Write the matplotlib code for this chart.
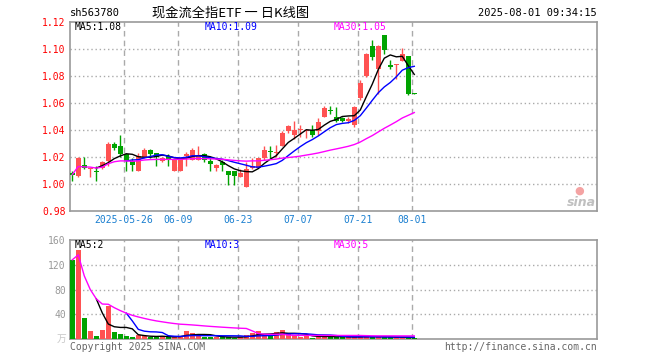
import matplotlib
matplotlib.use("Agg")
import matplotlib.pyplot as plt
import numpy as np
import pandas as pd

code = "sh563780"
title = "现金流全指ETF 一 日K线图"
stamp = "2025-08-01 09:34:15"

# 日K数据 2025-05-13 .. 2025-08-01
opens = [1.008, 1.006, 1.014, 1.011, 1.010, 1.012, 1.017, 1.030, 1.028, 1.022,
         1.017, 1.010, 1.020, 1.025, 1.023, 1.017, 1.021, 1.010, 1.010, 1.021,
         1.018, 1.018, 1.022, 1.017, 1.012, 1.016, 1.010, 1.010, 1.005, 0.998,
         1.012, 1.012, 1.019, 1.0245, 1.023, 1.028, 1.039, 1.036, 1.040, 1.039,
         1.040, 1.039, 1.050, 1.055, 1.050, 1.049, 1.047, 1.044, 1.064, 1.080,
         1.102, 1.085, 1.110, 1.088, 1.088, 1.091, 1.095, 1.0672]
highs = [1.010, 1.020, 1.020, 1.012, 1.013, 1.017, 1.031, 1.031, 1.036, 1.023,
         1.019, 1.023, 1.027, 1.026, 1.023, 1.020, 1.022, 1.018, 1.019, 1.024,
         1.027, 1.028, 1.023, 1.020, 1.015, 1.018, 1.010, 1.010, 1.011, 1.0165,
         1.0195, 1.019, 1.028, 1.028, 1.029, 1.039, 1.044, 1.047, 1.044, 1.041,
         1.044, 1.049, 1.058, 1.058, 1.057, 1.050, 1.050, 1.058, 1.077, 1.097,
         1.107, 1.103, 1.110, 1.092, 1.089, 1.101, 1.095, 1.0672]
lows = [1.002, 1.005, 1.011, 1.005, 1.002, 1.011, 1.013, 1.025, 1.020, 1.010,
        1.010, 1.010, 1.019, 1.019, 1.013, 1.016, 1.013, 1.010, 1.010, 1.013,
        1.018, 1.018, 1.016, 1.010, 1.010, 1.010, 0.999, 0.999, 1.005, 0.9975,
        1.011, 1.012, 1.018, 1.019, 1.020, 1.028, 1.038, 1.033, 1.035, 1.034,
        1.035, 1.036, 1.050, 1.052, 1.046, 1.046, 1.045, 1.042, 1.062, 1.079,
        1.092, 1.067, 1.096, 1.085, 1.078, 1.091, 1.066, 1.0668]
closes = [1.007, 1.019, 1.012, 1.012, 1.009, 1.016, 1.030, 1.027, 1.022, 1.017,
          1.014, 1.021, 1.025, 1.022, 1.020, 1.019, 1.018, 1.018, 1.019, 1.022,
          1.025, 1.021, 1.018, 1.015, 1.014, 1.014, 1.007, 1.006, 1.008, 1.011,
          1.013, 1.019, 1.025, 1.024, 1.024, 1.038, 1.043, 1.040, 1.040, 1.040,
          1.036, 1.046, 1.056, 1.054, 1.047, 1.047, 1.048, 1.057, 1.075, 1.096,
          1.094, 1.102, 1.099, 1.087, 1.089, 1.096, 1.067, 1.0668]
# 成交量 (万)
vols = [128, 144, 34, 13.5, 5, 14.5, 54, 12, 8, 5,
        3.2, 6.5, 5, 3, 3, 5, 3, 3, 5, 13,
        9.5, 6, 3, 3.5, 3.5, 3, 3, 2, 3.7, 6,
        10, 13, 6, 5.4, 11, 14.5, 9, 6, 3.7, 5,
        2, 4.5, 4.5, 3.7, 3, 3, 3, 3, 4.5, 4.5,
        3, 3, 3, 3, 2.5, 2.5, 2.5, 1.5]

tick_idx = [9, 18, 28, 38, 48, 57]
tick_lab = ["2025-05-26", "06-09", "06-23", "07-07", "07-21", "08-01"]

RED = "#ff5252"
GREEN = "#00a300"
GRID = "#aaaaaa"
MONO = "DejaVu Sans Mono"
W, H = 660, 360

def fx(x):
    return x / W

def fy(y):
    return 1 - y / H

o = np.array(opens); h = np.array(highs); l = np.array(lows); c = np.array(closes)
v = np.array(vols)
x = np.arange(len(c))
up = c >= o
cols = np.where(up, RED, GREEN)

cs = pd.Series(c)
ma5 = cs.rolling(5).mean()
ma10 = cs.rolling(10).mean()
ma30 = cs.rolling(30, min_periods=1).mean()
vs = pd.Series(v)
vma5 = vs.rolling(5).mean()
vma10 = vs.rolling(10).mean()
vma30 = vs.rolling(30, min_periods=1).mean()

fig = plt.figure(figsize=(6.6, 3.6), dpi=100)
ax = fig.add_axes([fx(70), fy(211), (597 - 70) / W, (211 - 22) / H])
axv = fig.add_axes([fx(70), fy(339), (597 - 70) / W, (339 - 240) / H])

xlim = (-0.38, 87.45)
grid_x = [i - 0.35 for i in tick_idx]

# --- 价格 ---
ax.vlines(x, l, h, color=cols, lw=1, zorder=3)
body = np.maximum(np.abs(c - o), 0.0008)
ax.bar(x, body, bottom=np.minimum(o, c), width=0.75, color=cols, lw=0, zorder=3)
ax.plot(x, ma5, color="black", lw=1, zorder=4)
ax.plot(x, ma10, color="blue", lw=1, zorder=4)
ax.plot(x, ma30, color="#ff00ff", lw=1, zorder=4)

ax.set_xlim(*xlim)
ax.set_ylim(0.98, 1.12)
yt = np.arange(0.98, 1.1201, 0.02)
ax.set_yticks(yt)
ax.set_yticklabels(["%.2f" % t for t in yt], color="red", fontsize=7, family=MONO)
for t in yt[1:-1]:
    ax.axhline(t, color=GRID, lw=1, ls=(0, (1, 2)), zorder=1)
for gx in grid_x:
    ax.axvline(gx, color=GRID, lw=1, ls=(0, (4, 3)), zorder=1)
ax.set_xticks(grid_x)
ax.set_xticklabels(tick_lab, color="#1a7fd0", fontsize=7, family=MONO)
ax.tick_params(length=0, pad=3)

# --- 成交量 ---
axv.bar(x, v, width=0.75, color=cols, lw=0, zorder=3)
axv.plot(x, vma5, color="black", lw=1, zorder=4)
axv.plot(x, vma10, color="blue", lw=1, zorder=4)
axv.plot(x, vma30, color="#ff00ff", lw=1, zorder=4)
axv.set_xlim(*xlim)
axv.set_ylim(0, 160)
vt = [40, 80, 120, 160]
axv.set_yticks(vt)
axv.set_yticklabels([str(t) for t in vt], color="#999999", fontsize=7, family=MONO)
axv.set_xticks([])
axv.tick_params(length=0, pad=3)
for t in vt[:-1]:
    axv.axhline(t, color=GRID, lw=1, ls=(0, (1, 2)), zorder=1)
for gx in grid_x:
    axv.axvline(gx, color=GRID, lw=1, ls=(0, (4, 3)), zorder=1)

for a in (ax, axv):
    for s in a.spines.values():
        s.set_color("#999999")
        s.set_linewidth(1.2)

# --- 文本 ---
fig.text(fx(70), fy(13), code, fontsize=7.5, family=MONO, va="center")
fig.text(fx(231), fy(13), title, fontsize=9.5, family=["Noto Sans CJK SC", "DejaVu Sans"],
         ha="center", va="center")
fig.text(fx(597), fy(13), stamp, fontsize=7.5, family=MONO, ha="right", va="center")

fig.text(fx(75), fy(27), "MA5:%.2f" % ma5.iloc[-1], fontsize=7, family=MONO,
         color="black", va="center")
fig.text(fx(205), fy(27), "MA10:%.2f" % ma10.iloc[-1], fontsize=7, family=MONO,
         color="blue", va="center")
fig.text(fx(334), fy(27), "MA30:%.2f" % ma30.iloc[-1], fontsize=7, family=MONO,
         color="#ff00ff", va="center")

fig.text(fx(75), fy(245), "MA5:%.0f" % vma5.iloc[-1], fontsize=7, family=MONO,
         color="black", va="center")
fig.text(fx(205), fy(245), "MA10:%.0f" % vma10.iloc[-1], fontsize=7, family=MONO,
         color="blue", va="center")
fig.text(fx(334), fy(245), "MA30:%.0f" % vma30.iloc[-1], fontsize=7, family=MONO,
         color="#ff00ff", va="center")

fig.text(fx(66), fy(339), "万", fontsize=7, family=["Noto Sans CJK SC", "DejaVu Sans"],
         color="#c8c8c8", ha="right", va="center")
fig.text(fx(70), fy(347), "Copyright 2025 SINA.COM", fontsize=7, family=MONO,
         color="#666666", va="center")
fig.text(fx(597), fy(347), "http://finance.sina.com.cn", fontsize=7, family=MONO,
         color="#666666", ha="right", va="center")

# sina 水印
fig.text(fx(581), fy(202), "sina", fontsize=9, fontweight="bold", style="italic",
         color="#c0c0c0", ha="center", va="center")
fig.text(fx(579), fy(191), "●", fontsize=8, color="#f4a3a3", ha="center", va="center")

fig.savefig("out.png", dpi=100)
